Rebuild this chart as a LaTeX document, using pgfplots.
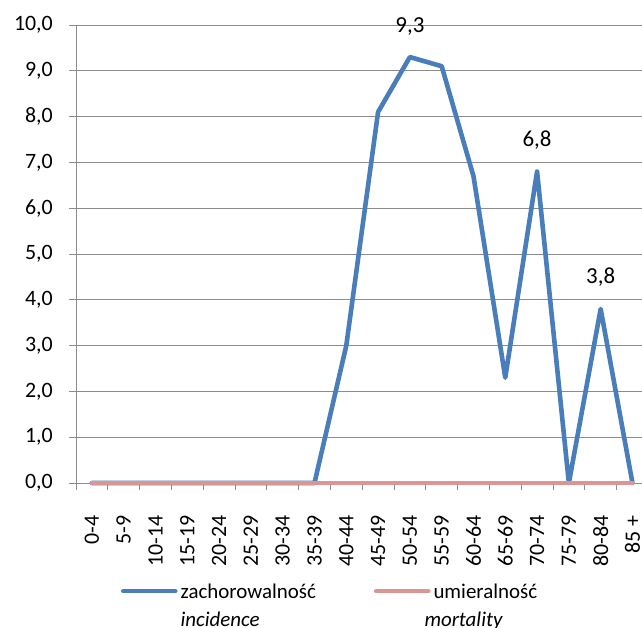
\documentclass[border=0pt]{standalone}
\usepackage{pgfplots}
\pgfplotsset{compat=1.18}
\usepackage{fontspec}
\setmainfont{Carlito}
\definecolor{blueL}{HTML}{4A7EBB}
\definecolor{pinkL}{HTML}{D99694}
\definecolor{gridG}{HTML}{8C8C8C}

\pgfplotstableread{
x y
0 0
1 0
2 0
3 0
4 0
5 0
6 0
7 0
8 3.0
9 8.1
10 9.3
11 9.1
12 6.7
13 2.3
14 6.8
15 0
16 3.8
17 0
}\incidence

\pgfplotstableread{
x y
0 0
1 0
2 0
3 0
4 0
5 0
6 0
7 0
8 0
9 0
10 0
11 0
12 0
13 0
14 0
15 0
16 0
17 0
}\mortality

\pgfplotstableread{
x y label
10 9.3 {9,3}
14 6.8 {6,8}
16 3.8 {3,8}
}\labels

\begin{document}
\begin{tikzpicture}
\begin{axis}[
  at={(0,0)}, anchor=south west,
  scale only axis, width=566bp, height=458bp,
  xmin=-0.5, xmax=17.3, ymin=0, ymax=10,
  axis x line*=bottom, axis y line*=left,
  axis line style={gridG, line width=0.9bp},
  ytick={0,1,...,10},
  ymajorgrids, grid style={gridG, line width=0.9bp},
  major tick length=7bp, tick align=outside,
  tick style={gridG, line width=0.9bp},
  xtick={-0.5,0.5,...,16.5}, xticklabels={},
  extra x ticks={0,1,...,17},
  extra x tick labels={0-4,5-9,10-14,15-19,20-24,25-29,30-34,35-39,40-44,45-49,50-54,55-59,60-64,65-69,70-74,75-79,80-84,85 +},
  extra x tick style={major tick length=0pt, grid=none},
  xticklabel style={rotate=90, anchor=east, inner sep=0pt, xshift=-32bp, font=\fontsize{22}{26}\selectfont},
  yticklabel style={anchor=east, inner sep=0pt, xshift=-16bp, font=\fontsize{22}{26}\selectfont,
    /pgf/number format/.cd, fixed, fixed zerofill, precision=1, use comma},
  /pgf/number format/assume math mode=true,
  clip=false,
  legend columns=2,
  legend image code/.code={\draw[#1, line cap=round] (0bp,7bp) -- (52bp,7bp);},
  legend style={at={(0.0795,-0.2197)}, anchor=north west, draw=none, fill=none,
    inner sep=0pt, outer sep=0pt,
    font=\fontsize{21}{28}\selectfont,
    cells={anchor=base west},
    nodes={inner sep=0pt},
    /tikz/every odd column/.append style={column sep=3bp},
    /tikz/every even column/.append style={column sep=58bp}},
]
\addplot[blueL, line width=4.6bp, line join=round, line cap=round] table[x=x, y=y] {\incidence};
\addlegendentry{\vtop{\hbox{zachorowalność}\hbox{\textit{incidence}}}}
\addplot[pinkL, line width=4.6bp, line join=round, line cap=round] table[x=x, y=y] {\mortality};
\addlegendentry{\vtop{\hbox{umieralność}\hbox{\hspace*{-9bp}\textit{mortality}}}}
\addplot[draw=none, forget plot, nodes near coords, point meta=explicit symbolic,
  nodes near coords style={anchor=base, inner sep=0pt, yshift=25bp, text=black, font=\fontsize{23}{27}\selectfont}]
  table[x=x, y=y, meta=label] {\labels};
\end{axis}
\pgfresetboundingbox
\useasboundingbox (-76bp,-145bp) rectangle (566bp,483bp);
\end{tikzpicture}
\end{document}
